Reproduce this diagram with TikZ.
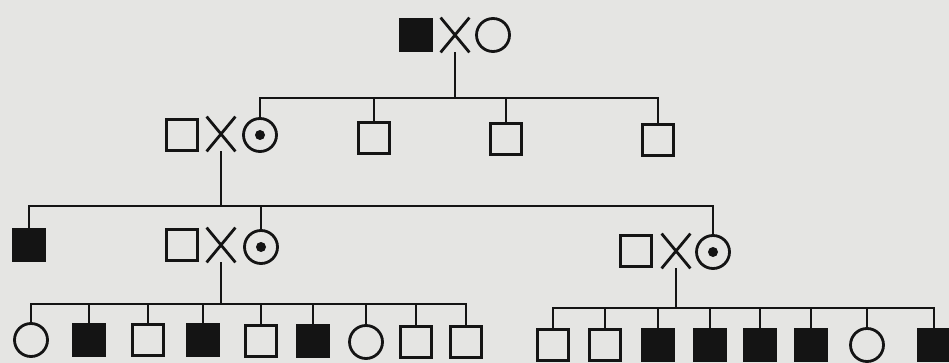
\documentclass[tikz,border=0pt]{standalone}
\usetikzlibrary{shapes.misc}
\definecolor{bg}{RGB}{229,229,227}
\definecolor{ink}{RGB}{20,20,20}
\begin{document}
\begin{tikzpicture}[x=1pt,y=-1pt,
  line/.style={draw=ink,line width=2.6pt},
  male/.style={rectangle,draw=ink,line width=2.8pt,minimum size=31pt,inner sep=0pt,fill=bg},
  aff/.style={male,fill=ink},
  female/.style={circle,draw=ink,line width=2.8pt,minimum size=33pt,inner sep=0pt,fill=bg},
  carrier/.style={female,path picture={\fill[ink] (path picture bounding box.center) circle (5pt);}},
  mate/.style={cross out,draw=ink,line width=2.8pt,minimum width=26pt,minimum height=32pt,inner sep=0pt}]
\fill[bg] (0,0) rectangle (949,363);
\clip (0,0) rectangle (949,363);
% generation I
\node[aff] (p0) at (416,35) {};
\node[mate] (x0) at (455,35) {};
\node[female] (w0) at (493,35) {};
% generation II
\node[male] (p1) at (182,135) {};
\node[mate] (x1) at (221,134) {};
\node[carrier] (c1) at (260,135) {};
\node[male] (g2a) at (374,138) {};
\node[male] (g2b) at (506,139) {};
\node[male] (g2c) at (658,140) {};
\coordinate (b1) at (260,98);
\draw[line] (x0.south) -- (x0.south |- b1);
\draw[line] (c1.north) -- (b1) -- (g2c.north |- b1) -- (g2c.north);
\draw[line] (g2a.north |- b1) -- (g2a.north);
\draw[line] (g2b.north |- b1) -- (g2b.north);
% generation III
\node[aff] (g3a) at (29,245) {};
\node[male] (p2) at (182,245) {};
\node[mate] (x2) at (221,245) {};
\node[carrier] (c2) at (261,247) {};
\node[male] (p3) at (636,251) {};
\node[mate] (x3) at (676,251) {};
\node[carrier] (c3) at (713,252) {};
\coordinate (b2) at (29,206);
\draw[line] (x1.south) -- (x1.south |- b2);
\draw[line] (g3a.north) -- (b2) -- (c3.north |- b2) -- (c3.north);
\draw[line] (c2.north |- b2) -- (c2.north);
% generation IV, left sibship
\node[female] (l1) at (31,340) {};
\node[aff] (l2) at (89,340) {};
\node[male] (l3) at (148,340) {};
\node[aff] (l4) at (203,340) {};
\node[male] (l5) at (261,341) {};
\node[aff] (l6) at (313,341) {};
\node[female] (l7) at (366,342) {};
\node[male] (l8) at (416,342) {};
\node[male] (l9) at (466,342) {};
\coordinate (b3) at (31,304);
\draw[line] (x2.south) -- (x2.south |- b3);
\draw[line] (l1.north) -- (b3) -- (l9.north |- b3) -- (l9.north);
\foreach \n in {l2,l3,l4,l5,l6,l7,l8}
  \draw[line] (\n.north |- b3) -- (\n.north);
% generation IV, right sibship
\node[male] (r1) at (553,345) {};
\node[male] (r2) at (605,345) {};
\node[aff] (r3) at (658,345) {};
\node[aff] (r4) at (710,345) {};
\node[aff] (r5) at (760,345) {};
\node[aff] (r6) at (811,345) {};
\node[female] (r7) at (867,345) {};
\node[aff] (r8) at (934,345) {};
\coordinate (b4) at (553,308);
\draw[line] (x3.south) -- (x3.south |- b4);
\draw[line] (r1.north) -- (b4) -- (r8.north |- b4) -- (r8.north);
\foreach \n in {r2,r3,r4,r5,r6,r7}
  \draw[line] (\n.north |- b4) -- (\n.north);
\end{tikzpicture}
\end{document}
